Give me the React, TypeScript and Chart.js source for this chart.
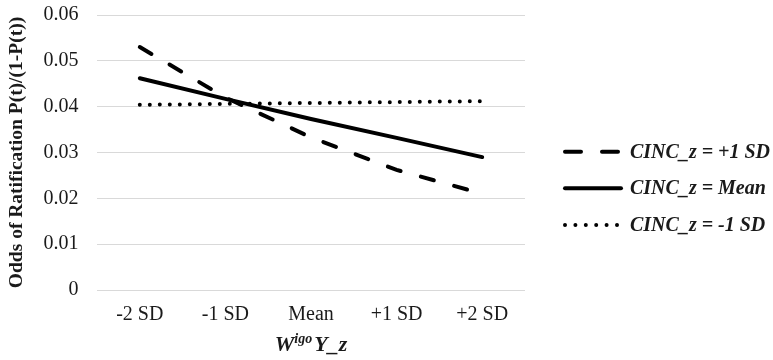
import React, { useEffect, useRef } from 'react';
import { Chart, registerables } from 'chart.js';

Chart.register(...registerables);

// ---- data ----
const categories = ['-2 SD', '-1 SD', 'Mean', '+1 SD', '+2 SD'];
const cincPlus1SD = [0.053, 0.042, 0.0333, 0.0262, 0.021];
const cincMean = [0.0462, 0.0417, 0.0373, 0.0332, 0.029];
const cincMinus1SD = [0.0404, 0.0406, 0.0408, 0.041, 0.0412];
const seriesLabels = ['CINC_z = +1 SD', 'CINC_z = Mean', 'CINC_z = -1 SD'];
const yTickLabels = ['0', '0.01', '0.02', '0.03', '0.04', '0.05', '0.06'];
const yAxisTitle = 'Odds of Ratification P(t)/(1-P(t))';
const xTitleMain = 'W';
const xTitleSup = 'igo';
const xTitleRest = 'Y_z';

// ---- layout ----
const W = 773;
const H = 360;
const FONT = "'Liberation Serif', 'Times New Roman', serif";
const TEXT = '#1a1a1a';

const customText = {
  id: 'customText',
  afterDraw(chart: any) {
    const ctx = chart.ctx as CanvasRenderingContext2D;
    const area = chart.chartArea;
    ctx.save();
    // x-axis title with superscript
    const mainFont = `italic bold 22px ${FONT}`;
    const supFont = `italic bold 14px ${FONT}`;
    ctx.font = mainFont;
    const wMain = ctx.measureText(xTitleMain).width;
    const wRest = ctx.measureText(xTitleRest).width;
    ctx.font = supFont;
    const wSup = ctx.measureText(xTitleSup).width;
    const gap = 2;
    const total = wMain + wSup + gap + wRest;
    let x = (area.left + area.right) / 2 - total / 2;
    const base = 351;
    ctx.fillStyle = TEXT;
    ctx.textBaseline = 'alphabetic';
    ctx.textAlign = 'left';
    ctx.font = mainFont;
    ctx.fillText(xTitleMain, x, base);
    x += wMain;
    ctx.font = supFont;
    ctx.fillText(xTitleSup, x, base - 8);
    x += wSup + gap;
    ctx.font = mainFont;
    ctx.fillText(xTitleRest, x, base);

    // legend
    const rows = [151.7, 188.3, 225];
    const textX = 630;
    chart.data.datasets.forEach((ds: any, i: number) => {
      const y = rows[i];
      ctx.save();
      ctx.strokeStyle = ds.borderColor;
      ctx.lineCap = 'round';
      const x0 = 565;
      let x1 = 618;
      if (i === 0) {
        ctx.lineWidth = 4;
        ctx.setLineDash([16, 21]);
      } else if (i === 1) {
        ctx.lineWidth = 4;
        ctx.setLineDash([]);
        x1 = 621;
      } else {
        ctx.lineWidth = 4;
        ctx.setLineDash([0, 10.4]);
        x1 = 617.5;
      }
      ctx.beginPath();
      ctx.moveTo(x0, y);
      ctx.lineTo(x1, y);
      ctx.stroke();
      ctx.restore();
      ctx.font = `italic bold 20px ${FONT}`;
      ctx.fillStyle = TEXT;
      ctx.textBaseline = 'alphabetic';
      ctx.textAlign = 'left';
      ctx.fillText(ds.label, textX, y + 5.8);
    });
    ctx.restore();
  },
};

export default function App() {
  const ref = useRef<HTMLCanvasElement>(null);

  useEffect(() => {
    if (!ref.current) return;
    Chart.defaults.font.family = FONT;
    const chart = new Chart(ref.current, {
      type: 'line',
      data: {
        labels: categories,
        datasets: [
          {
            label: seriesLabels[0],
            data: cincPlus1SD,
            borderColor: '#000',
            borderWidth: 4,
            borderDash: [13.5, 21],
            borderCapStyle: 'round',
            pointRadius: 0,
            tension: 0,
          },
          {
            label: seriesLabels[1],
            data: cincMean,
            borderColor: '#000',
            borderWidth: 4,
            borderCapStyle: 'round',
            pointRadius: 0,
            tension: 0,
          },
          {
            label: seriesLabels[2],
            data: cincMinus1SD,
            borderColor: '#000',
            borderWidth: 4,
            borderDash: [0, 10],
            borderCapStyle: 'round',
            pointRadius: 0,
            tension: 0,
          },
        ],
      },
      options: {
        animation: false,
        responsive: false,
        devicePixelRatio: 1,
        layout: { padding: { top: 15, right: W - 525, bottom: 0, left: 0 } },
        plugins: {
          legend: { display: false },
          tooltip: { enabled: false },
        },
        scales: {
          x: {
            offset: true,
            grid: { display: false, drawTicks: false },
            border: { display: false },
            ticks: {
              padding: 13,
              color: TEXT,
              font: { family: FONT, size: 20 },
              maxRotation: 0,
            },
            afterFit: (s: any) => {
              s.height = 70;
            },
          },
          y: {
            min: 0,
            max: 0.06,
            ticks: {
              stepSize: 0.01,
              padding: 18.5,
              color: TEXT,
              font: { family: FONT, size: 20 },
              callback: (v: any, i: number) => yTickLabels[i] ?? String(v),
            },
            grid: { color: '#d9d9d9', lineWidth: 1, drawTicks: false },
            border: { display: false },
            title: {
              display: true,
              text: yAxisTitle,
              color: TEXT,
              font: { family: FONT, size: 19.5, weight: 'bold' },
              padding: { top: 5, bottom: 0 },
            },
            afterFit: (s: any) => {
              s.width = 97;
              s.paddingTop = 0;
              s.paddingBottom = 0;
            },
          },
        },
      },
      plugins: [customText],
    } as any);
    return () => chart.destroy();
  }, []);

  return (
    <div
      style={{
        position: 'fixed',
        left: 0,
        top: 0,
        width: W,
        height: H,
        background: '#fff',
        overflow: 'hidden',
      }}
    >
      <canvas ref={ref} width={W} height={H} style={{ display: 'block', width: W, height: H }} />
    </div>
  );
}
